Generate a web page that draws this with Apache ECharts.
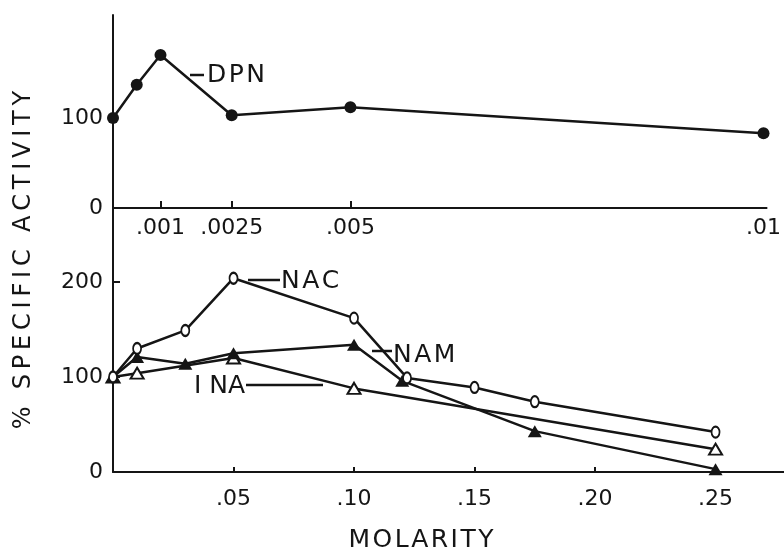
<!DOCTYPE html>
<html>
<head>
<meta charset="utf-8">
<script src="https://cdn.jsdelivr.net/npm/echarts@6/dist/echarts.min.js"></script>
<style>
  html, body { margin: 0; padding: 0; background: #fff; }
  #main { width: 784px; height: 550px; }
</style>
</head>
<body>
<div id="main"></div>
<script>
// top panel: DPN (molarity axis is broken after .005)
const dpnMolarity = [0, 0.0005, 0.001, 0.0025, 0.005, 0.01];
const dpnActivity = [100, 137, 170, 103, 112, 83];

// bottom panel
const nacMolarity = [0, 0.01, 0.03, 0.05, 0.10, 0.122, 0.15, 0.175, 0.25];
const nacActivity = [100, 130, 149, 204, 162, 99, 89, 74, 42];

const namMolarity = [0, 0.01, 0.03, 0.05, 0.10, 0.12, 0.175, 0.25];
const namActivity = [100, 121, 114, 125, 134, 96, 43, 3];

const inaMolarity = [0, 0.01, 0.05, 0.10, 0.25];
const inaActivity = [100, 104, 120, 88, 24];

// tick labels
const topTickValues = [0.001, 0.0025, 0.005, 0.01];
const topTickLabels = ['.001', '.0025', '.005', '.01'];
const bottomTickValues = [0.05, 0.10, 0.15, 0.20, 0.25];
const bottomTickLabels = ['.05', '.10', '.15', '.20', '.25'];

// the original draws .01 far to the right of .005
const BREAK_AT = 0.005;
const BREAK_STRETCH = 1.74;
function breakScale(m) {
    return m <= BREAK_AT ? m : BREAK_AT + (m - BREAK_AT) * BREAK_STRETCH;
}

function pairs(xs, ys, fx) {
    return xs.map((x, i) => [fx ? fx(x) : x, ys[i]]);
}

// the lettering in the original is widely spaced
function spaced(s, gap) {
    return s.split('').join(gap || '\u200A');
}

const FONT = 'DejaVu Sans';
const INK = '#151515';
const LW = 2.5;

let chart = echarts.init(document.getElementById('main'));

let topTickPos = topTickValues.map(breakScale);

function axisBase(extra) {
    return Object.assign({
        axisLine: { show: true, onZero: false, lineStyle: { color: INK, width: 2 } },
        splitLine: { show: false },
    }, extra);
}

function textEl(x, y, text, size, extra) {
    return Object.assign({
        type: 'text', x: x, y: y,
        style: {
            text: text, fill: INK,
            font: size + 'px "' + FONT + '"', verticalAlign: 'middle'
        }
    }, extra || {});
}

function leader(x1, y1, x2, y2) {
    return { type: 'line', shape: { x1: x1, y1: y1, x2: x2, y2: y2 }, style: { stroke: INK, lineWidth: LW } };
}

let yTitle = textEl(24, 260, spaced('% SPECIFIC ACTIVITY', '\u2009'), 24, { rotation: Math.PI / 2 });
yTitle.style.align = 'center';
let xTitle = textEl(421, 540, spaced('MOLARITY'), 25);
xTitle.style.align = 'center';

let option = {
    animation: false,
    backgroundColor: '#fff',
    grid: [
        { left: 113, right: 0, top: 15, height: 193 },
        { left: 113, right: 0, top: 208, height: 264 }
    ],
    xAxis: [
        axisBase({
            type: 'value',
            gridIndex: 0,
            min: 0,
            max: 0.013764,
            axisTick: {
                show: true, inside: true, length: 7,
                customValues: topTickPos.slice(0, 3),
                lineStyle: { color: INK, width: 2 }
            },
            axisLabel: {
                customValues: topTickPos,
                margin: 9,
                color: INK, fontFamily: FONT, fontSize: 22,
                formatter: function (v) {
                    let i = topTickPos.findIndex(p => Math.abs(p - v) < 1e-9);
                    return i >= 0 ? topTickLabels[i] : '';
                }
            }
        }),
        axisBase({
            type: 'value',
            gridIndex: 1,
            min: 0,
            max: 0.2784,
            axisTick: {
                show: true, inside: true, length: 5,
                customValues: bottomTickValues,
                lineStyle: { color: INK, width: 2 }
            },
            axisLabel: {
                customValues: bottomTickValues,
                margin: 16,
                color: INK, fontFamily: FONT, fontSize: 22,
                formatter: function (v) {
                    let i = bottomTickValues.findIndex(p => Math.abs(p - v) < 1e-9);
                    return i >= 0 ? bottomTickLabels[i] : '';
                }
            }
        })
    ],
    yAxis: [
        axisBase({
            type: 'value',
            gridIndex: 0,
            min: 0,
            max: 214.4,
            axisTick: { show: false },
            axisLabel: {
                customValues: [0, 100],
                margin: 10,
                color: INK, fontFamily: FONT, fontSize: 22
            }
        }),
        axisBase({
            type: 'value',
            gridIndex: 1,
            min: 0,
            max: 277.9,
            axisTick: {
                show: true, inside: true, length: 7,
                customValues: [100, 200],
                lineStyle: { color: INK, width: 2 }
            },
            axisLabel: {
                customValues: [0, 100, 200],
                margin: 10,
                color: INK, fontFamily: FONT, fontSize: 22
            }
        })
    ],
    series: [
        {
            name: 'DPN',
            type: 'line',
            xAxisIndex: 0, yAxisIndex: 0,
            data: pairs(dpnMolarity, dpnActivity, breakScale),
            symbol: 'circle',
            symbolSize: 12,
            lineStyle: { color: INK, width: LW },
            itemStyle: { color: INK }
        },
        {
            name: 'INA',
            type: 'line',
            xAxisIndex: 1, yAxisIndex: 1,
            data: pairs(inaMolarity, inaActivity),
            symbol: 'triangle',
            symbolSize: [13, 11],
            lineStyle: { color: INK, width: LW },
            itemStyle: { color: '#fff', borderColor: INK, borderWidth: 2 }
        },
        {
            name: 'NAM',
            type: 'line',
            xAxisIndex: 1, yAxisIndex: 1,
            data: pairs(namMolarity, namActivity),
            symbol: 'triangle',
            symbolSize: [14, 12],
            lineStyle: { color: INK, width: LW },
            itemStyle: { color: INK }
        },
        {
            name: 'NAC',
            type: 'line',
            xAxisIndex: 1, yAxisIndex: 1,
            data: pairs(nacMolarity, nacActivity),
            symbol: 'circle',
            symbolSize: [8, 11],
            lineStyle: { color: INK, width: LW },
            itemStyle: { color: '#fff', borderColor: INK, borderWidth: 2 }
        }
    ],
    graphic: [
        yTitle,
        xTitle,
        // series labels with their leaders
        leader(190, 75, 204, 75),
        textEl(207, 75, spaced('DPN'), 25),
        leader(248, 280, 280, 280),
        textEl(281, 281, spaced('NAC'), 25),
        leader(372, 351, 392, 351),
        textEl(393, 355, spaced('NAM'), 25),
        textEl(194, 386, 'I NA', 25),
        leader(246, 385, 323, 385)
    ]
};

chart.setOption(option);
</script>
</body>
</html>
